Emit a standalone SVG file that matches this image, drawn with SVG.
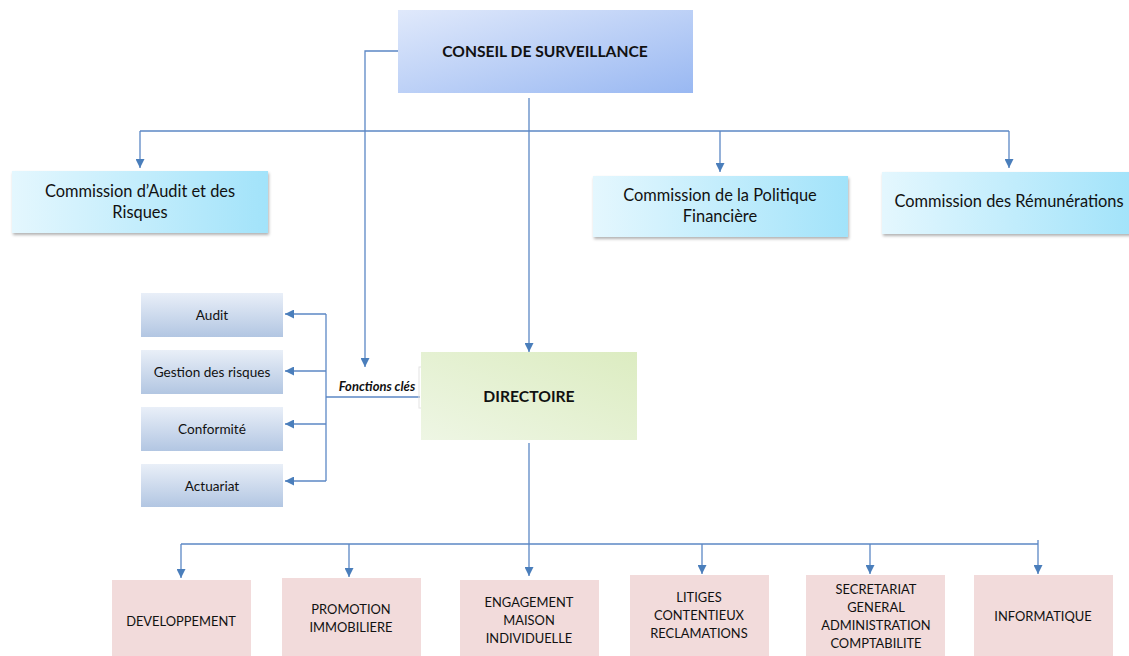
<svg xmlns="http://www.w3.org/2000/svg" width="1129" height="656" viewBox="0 0 1129 656">
<defs>
<linearGradient id="gBlue" x1="0" y1="0" x2="1" y2="1"><stop offset="0" stop-color="#e0e9fb"/><stop offset="1" stop-color="#99b8f2"/></linearGradient>
<linearGradient id="gCyan" x1="0" y1="0" x2="1" y2="0"><stop offset="0" stop-color="#e4f7fe"/><stop offset="1" stop-color="#a2e3fa"/></linearGradient>
<linearGradient id="gSteel" x1="0" y1="0" x2="0" y2="1"><stop offset="0" stop-color="#e9eff8"/><stop offset="1" stop-color="#b2c6e2"/></linearGradient>
<linearGradient id="gGreen" x1="0" y1="1" x2="1" y2="0"><stop offset="0" stop-color="#eef6e4"/><stop offset="1" stop-color="#dcecc1"/></linearGradient>
<filter id="sh" x="-10%" y="-10%" width="120%" height="130%"><feDropShadow dx="1" dy="2" stdDeviation="1.5" flood-color="#000" flood-opacity="0.3"/></filter>
<marker id="arr" viewBox="0 0 10 10" refX="10" refY="5" markerWidth="9" markerHeight="9" markerUnits="userSpaceOnUse" orient="auto"><path d="M0,0 L10,5 L0,10 z" fill="#4a7ebb"/></marker>
</defs>
<style>
.c{fill:none;stroke:#5b87c5;stroke-width:1.3}
.t{font-family:Lato,"Open Sans",sans-serif;fill:#111;text-anchor:middle}
.b{font-weight:bold}
.com{font-size:16.4px}
.lf{font-size:13.6px}
.sm{font-size:12.9px}
.pink{fill:#f2dbdb}
</style>
<rect width="1129" height="656" fill="#fff"/>
<g id="connectors">
<path class="c" d="M398,51 H365 V367" marker-end="url(#arr)"/>
<path class="c" d="M529,98 V352" marker-end="url(#arr)"/>
<path class="c" d="M140,131 H1009"/>
<path class="c" d="M140,131 V168" marker-end="url(#arr)"/>
<path class="c" d="M720,131 V172" marker-end="url(#arr)"/>
<path class="c" d="M1009,131 V168" marker-end="url(#arr)"/>
<path class="c" d="M420,397 H326"/>
<path class="c" d="M326,314 V481"/>
<path class="c" d="M326,314 H285" marker-end="url(#arr)"/>
<path class="c" d="M326,371 H285" marker-end="url(#arr)"/>
<path class="c" d="M326,424 H285" marker-end="url(#arr)"/>
<path class="c" d="M326,481 H285" marker-end="url(#arr)"/>
<path class="c" d="M529,443 V576" marker-end="url(#arr)"/>
<path class="c" d="M181,544 H1038"/>
<path class="c" d="M181,544 V578" marker-end="url(#arr)"/>
<path class="c" d="M349,544 V577" marker-end="url(#arr)"/>
<path class="c" d="M702,544 V574" marker-end="url(#arr)"/>
<path class="c" d="M870,544 V574" marker-end="url(#arr)"/>
<path class="c" d="M1038,540 V574" marker-end="url(#arr)"/>
<text class="t b" x="377" y="391" font-size="13" font-style="italic">Fonctions clés</text>
<rect x="419" y="367" width="11" height="41" fill="none" stroke="#e4e4e4" stroke-width="1"/>
</g>
<g id="conseil">
<rect x="398" y="10" width="295" height="83" fill="url(#gBlue)"/>
<text class="t b" x="545" y="57" font-size="15.6">CONSEIL DE SURVEILLANCE</text>
</g>
<g id="com-audit">
<rect x="12" y="171" width="256" height="62" fill="url(#gCyan)" filter="url(#sh)"/>
<text class="t com" x="140" y="197">Commission d’Audit et des</text>
<text class="t com" x="140" y="218">Risques</text>
</g>
<g id="com-finance">
<rect x="593" y="176" width="255" height="61" fill="url(#gCyan)" filter="url(#sh)"/>
<text class="t com" x="720" y="201">Commission de la Politique</text>
<text class="t com" x="720" y="222">Financière</text>
</g>
<g id="com-remu">
<rect x="882" y="172" width="250" height="62" fill="url(#gCyan)" filter="url(#sh)"/>
<text class="t com" x="1009" y="207">Commission des Rémunérations</text>
</g>
<g id="audit"><rect x="141" y="293" width="142" height="44" fill="url(#gSteel)"/><text class="t lf" x="212" y="320">Audit</text></g>
<g id="risques"><rect x="141" y="350" width="142" height="44" fill="url(#gSteel)"/><text class="t lf" x="212" y="377">Gestion des risques</text></g>
<g id="conformite"><rect x="141" y="407" width="142" height="44" fill="url(#gSteel)"/><text class="t lf" x="212" y="434">Conformité</text></g>
<g id="actuariat"><rect x="141" y="464" width="142" height="43" fill="url(#gSteel)"/><text class="t lf" x="212" y="491">Actuariat</text></g>
<g id="directoire">
<rect x="421" y="352" width="216" height="88" fill="url(#gGreen)"/>
<text class="t b" x="529" y="402" font-size="15.7">DIRECTOIRE</text>
</g>
<g id="developpement"><rect class="pink" x="112" y="580" width="139" height="76"/><text class="t sm" x="181" y="626">DEVELOPPEMENT</text></g>
<g id="promotion"><rect class="pink" x="282" y="578" width="139" height="78"/><text class="t sm" x="351" y="614">PROMOTION</text><text class="t sm" x="351" y="632">IMMOBILIERE</text></g>
<g id="engagement"><rect class="pink" x="460" y="580" width="139" height="76"/><text class="t sm" x="529" y="607">ENGAGEMENT</text><text class="t sm" x="529" y="625">MAISON</text><text class="t sm" x="529" y="643">INDIVIDUELLE</text></g>
<g id="litiges"><rect class="pink" x="630" y="575" width="139" height="81"/><text class="t sm" x="699" y="602">LITIGES</text><text class="t sm" x="699" y="620">CONTENTIEUX</text><text class="t sm" x="699" y="638">RECLAMATIONS</text></g>
<g id="secretariat"><rect class="pink" x="806" y="575" width="139" height="81"/><text class="t sm" x="876" y="594">SECRETARIAT</text><text class="t sm" x="876" y="612">GENERAL</text><text class="t sm" x="876" y="630">ADMINISTRATION</text><text class="t sm" x="876" y="648">COMPTABILITE</text></g>
<g id="informatique"><rect class="pink" x="974" y="575" width="139" height="81"/><text class="t sm" x="1043" y="621">INFORMATIQUE</text></g>
</svg>
